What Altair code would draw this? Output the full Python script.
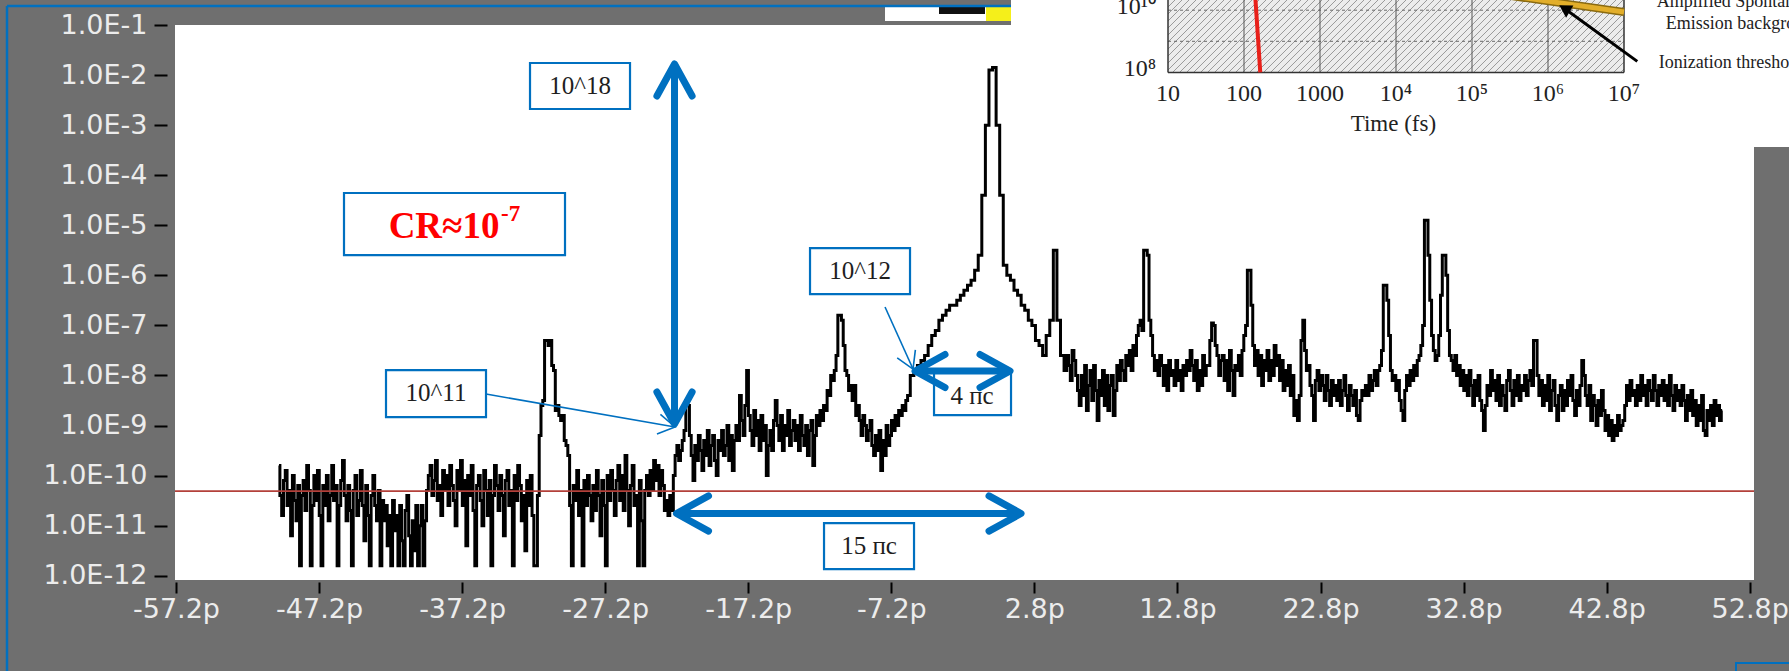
import altair as alt
import pandas as pd

# ---------------- data ----------------
# main trace, read in four stretches: start (ps), step (ps), log10 contrast per sample
LEFT_T_START, LEFT_T_STEP = -50.0, 0.125
LEFT_LOG = [
    -9.8, -10.4, -10.8, -10.1, -9.9, -10.6, -10.3, -11.2, -10.0, -10.5, -10.9, -10.2, -11.8, -10.4, -10.1, -10.7,
    -9.8, -10.3, -11.8, -10.6, -10.0, -10.5, -9.9, -10.8, -11.8, -10.2, -10.6, -10.0, -10.9, -10.4, -9.8, -10.5,
    -10.2, -11.8, -10.6, -10.1, -9.7, -10.4, -10.9, -10.2, -10.7, -11.8, -10.3, -10.0, -10.8, -10.5, -9.9, -10.6,
    -11.3, -10.2, -10.8, -11.8, -10.4, -10.0, -10.6, -10.9, -10.3, -11.8, -10.5, -10.9, -10.6, -11.4, -10.8, -11.8,
    -10.5, -11.1, -10.8, -11.8, -10.6, -11.3, -11.8, -10.7, -10.4, -11.2, -11.8, -10.9, -11.5, -10.6, -11.8, -11.0,
    -10.6, -11.8, -10.9, -10.3, -10.0, -9.8, -10.4, -10.1, -9.7, -10.5, -10.2, -10.8, -9.9, -10.3, -10.0, -10.6,
    -9.8, -10.2, -10.5, -11.0, -9.9, -10.3, -9.7, -10.6, -10.1, -11.4, -10.0, -10.4, -9.8, -10.7, -11.8, -10.2,
    -10.0, -10.5, -11.0, -9.9, -10.3, -10.8, -10.1, -11.8, -10.4, -9.8, -10.2, -10.7, -10.0, -10.4, -11.2, -10.1,
    -9.9, -10.6, -10.3, -11.8, -10.0, -10.5, -9.8, -10.2, -10.9, -10.4, -11.5, -10.1, -10.6, -10.0, -10.8, -11.8,
    -11.8, -10.4, -9.2, -8.6, -8.5, -7.3, -7.3, -7.4, -7.3, -7.8, -7.9, -8.7, -8.6, -8.8, -8.9, -8.8,
    -9.3, -9.4, -9.6, -10.6, -11.8, -10.2, -10.5, -9.9, -10.8, -10.3, -11.8, -10.1, -10.6, -10.0, -10.4, -10.9,
    -10.2, -10.7, -9.9, -10.4, -11.2, -10.1, -10.6, -11.8, -10.0, -10.5, -9.9, -10.3, -10.8, -10.1, -9.8, -10.5,
    -10.0, -10.7, -9.6, -10.3, -11.0, -10.2, -9.8, -10.6, -10.4, -11.8, -10.1, -10.9, -11.8, -10.3, -10.0, -10.4,
    -9.9, -10.3, -9.7, -10.1, -9.8, -10.4, -9.9, -10.2, -10.7, -10.5, -10.8, -10.4, -10.7, -10.0, -9.6, -9.4,
]
MID_T_START, MID_T_STEP = -22.0, 0.125
MID_LOG = [
    -9.7, -9.5, -9.3, -9.1, -8.5, -8.6, -9.2, -9.6,     # -22
    -10.1, -9.4, -9.7, -9.2, -9.5, -9.9, -9.3, -9.6,    # -21
    -9.1, -9.8, -9.4, -9.2, -9.7, -10.0, -9.3, -9.5,    # -20
    -9.1, -9.6, -9.4, -9.0, -9.7, -9.2, -9.9, -9.3,     # -19
    -9.0, -9.3, -8.4, -8.9, -9.2, -8.6, -7.9, -8.8,     # -18
    -9.1, -9.4, -8.7, -9.2, -8.9, -9.5, -8.8, -9.3,     # -17
    -9.0, -10.0, -9.4, -9.1, -9.5, -8.9, -8.5, -9.0,    # -16
    -9.3, -8.8, -9.5, -9.0, -9.2, -8.7, -9.4, -9.1,     # -15
    -8.9, -9.3, -9.0, -9.5, -8.8, -9.2, -9.4, -9.0,     # -14
    -9.6, -9.1, -8.9, -9.8, -9.2, -8.8, -9.0, -8.7,     # -13
    -8.9, -8.6, -8.7, -8.3, -8.4, -8.0, -8.1, -7.9,     # -12
    -7.6, -6.8, -6.8, -6.9, -7.4, -7.9, -8.0, -8.3,     # -11
    -8.2, -8.5, -8.2, -8.8, -8.6, -8.9, -9.2, -8.8,     # -10
    -9.0, -9.3, -9.1, -8.9, -9.4, -9.6, -9.2, -9.5,     # -9
    -9.1, -9.9, -9.3, -9.6, -9.0, -9.4, -9.2, -8.9,     # -8
    -9.1, -8.8, -9.0, -8.7, -8.8, -8.6, -8.7, -8.5,     # -7
]
PULSE_T_START, PULSE_T_STEP = -6.0, 0.25
PULSE_LOG = [
    -8.4, -8.0, -7.9, -7.8, -7.7, -7.6, -7.4, -7.2, -7.1, -6.9, -6.8, -6.7, -6.6, -6.6, -6.5, -6.4,
    -6.3, -6.2, -6.1, -5.9, -5.6, -4.4, -3.0, -1.9, -1.85, -3.0, -4.4, -5.8, -6.0, -6.1, -6.3, -6.4,
    -6.6, -6.7, -6.9, -7.0, -7.3, -7.4, -7.6, -7.2, -6.9, -5.5, -6.9, -7.6,
]
RIGHT_T_START, RIGHT_T_STEP = 5.0, 0.125
RIGHT_LOG = [
    -7.9, -7.6, -7.8, -8.1, -7.5, -7.7, -8.0, -8.3,     # 5
    -8.6, -8.0, -8.4, -7.8, -8.7, -8.2, -7.9, -8.5,     # 6
    -7.8, -8.3, -8.9, -8.1, -8.4, -7.9, -8.6, -8.0,     # 7
    -8.7, -8.2, -8.0, -8.8, -8.3, -7.8, -8.1, -7.7,     # 8
    -7.9, -8.1, -7.6, -7.8, -7.5, -7.9, -7.4, -7.6,     # 9
    -7.2, -7.0, -6.9, -7.1, -5.5, -5.5, -5.6, -6.9,     # 10
    -7.2, -7.6, -7.9, -7.7, -8.0, -7.6, -7.8, -8.2,     # 11
    -7.8, -8.3, -7.7, -8.0, -7.9, -8.2, -7.7, -8.1,     # 12
    -7.9, -8.3, -7.8, -8.0, -7.7, -7.9, -7.5, -7.8,     # 13
    -8.1, -7.7, -8.3, -7.9, -8.2, -7.6, -8.0, -7.8,     # 14
    -7.8, -7.3, -6.95, -7.0, -7.4, -7.6, -8.0, -7.7,    # 15
    -7.6, -8.1, -7.7, -8.3, -7.5, -7.9, -8.4, -7.8,     # 16
    -7.9, -7.6, -8.0, -7.5, -7.2, -7.0, -5.9, -5.9,     # 17
    -6.6, -7.4, -7.8, -7.5, -8.0, -7.6, -8.2, -7.7,     # 18
    -7.9, -7.5, -8.1, -7.7, -8.0, -7.4, -7.8, -7.6,     # 19
    -8.1, -7.7, -8.3, -7.9, -8.2, -7.8, -8.4, -8.0,     # 20
    -8.8, -8.5, -8.9, -8.4, -7.3, -6.9, -7.5, -7.9,     # 21
    -7.8, -8.2, -8.4, -8.9, -8.1, -7.9, -8.3, -8.0,     # 22
    -8.2, -8.5, -8.0, -8.3, -8.6, -8.1, -8.4, -8.2,     # 23
    -8.5, -8.1, -8.6, -8.3, -8.0, -8.4, -8.7, -8.2,     # 24
    -8.4, -8.6, -8.3, -8.8, -8.9, -8.5, -8.3, -8.4,     # 25
    -8.2, -8.4, -8.0, -8.3, -8.1, -7.9, -8.2, -7.9,     # 26
    -7.8, -7.5, -6.2, -6.2, -6.5, -7.2, -7.9, -8.1,     # 27
    -8.0, -8.3, -8.1, -8.5, -8.7, -8.9, -8.3, -8.0,     # 28
    -8.2, -7.9, -8.1, -7.8, -8.0, -7.7, -7.6, -7.4,     # 29
    -7.0, -4.9, -4.9, -5.6, -6.5, -7.2, -7.5, -7.7,     # 30
    -7.6, -7.2, -6.4, -5.6, -5.6, -6.0, -7.1, -7.6,     # 31
    -7.7, -7.9, -7.6, -8.0, -7.8, -8.2, -7.9, -8.3,     # 32
    -8.0, -8.4, -7.9, -8.2, -8.6, -8.1, -8.4, -8.0,     # 33
    -8.5, -8.7, -9.1, -8.6, -8.2, -8.4, -7.9, -8.3,     # 34
    -8.1, -8.5, -8.0, -8.6, -8.2, -8.4, -8.7, -8.1,     # 35
    -7.9, -8.3, -8.6, -8.1, -8.4, -8.0, -8.5, -8.2,     # 36
    -8.3, -8.0, -8.4, -8.1, -7.9, -8.2, -7.3, -7.3,     # 37
    -8.0, -8.4, -8.1, -8.6, -8.2, -8.5, -8.0, -8.7,     # 38
    -8.3, -8.1, -8.6, -8.9, -8.4, -8.2, -8.7, -8.3,     # 39
    -8.6, -8.1, -8.4, -8.0, -8.5, -8.8, -8.3, -8.6,     # 40
    -8.2, -7.7, -8.0, -8.4, -8.6, -8.2, -8.9, -8.4,     # 41
    -8.6, -9.0, -8.5, -8.8, -8.3, -8.7, -9.1, -8.8,     # 42
    -9.2, -8.9, -9.3, -9.0, -9.2, -8.8, -9.1, -9.0,     # 43
    -8.9, -8.6, -8.2, -8.5, -8.1, -8.4, -8.3, -8.6,     # 44
    -8.2, -8.5, -8.0, -8.4, -8.2, -8.6, -8.1, -8.3,     # 45
    -8.5, -8.0, -8.3, -8.6, -8.2, -8.4, -8.1, -8.5,     # 46
    -8.2, -8.6, -8.0, -8.4, -8.7, -8.2, -8.5, -8.3,     # 47
    -8.6, -8.2, -8.5, -8.9, -8.4, -8.7, -8.3, -8.8,     # 48
    -8.5, -9.0, -8.6, -8.9, -8.4, -9.1, -9.2, -8.7,     # 49
    -8.9, -8.6, -9.0, -8.5, -8.8, -8.6, -8.9, -8.7,     # 50
]
THRESHOLD_EXP = -10.31

X_TICKS = [-57.2, -47.2, -37.2, -27.2, -17.2, -7.2, 2.8, 12.8, 22.8, 32.8, 42.8, 52.8]
X_DOMAIN = [-57.27, 53.1]
Y_TICK_EXP = [-1, -2, -3, -4, -5, -6, -7, -8, -9, -10, -11, -12]
Y_DOMAIN_EXP = [-12.086, -1.0]

# annotation boxes (time ps, log10 value)
BOX_LABEL = ["10^18", "", "10^11", "10^12", "4 пс", "15 пс"]
BOX_T1 = [-32.455, -45.457, -42.521, -12.883, -4.215, -11.904]
BOX_T2 = [-25.465, -30.009, -35.531, -5.893, 1.167, -5.613]
BOX_E1 = [-1.759, -4.356, -7.892, -5.455, -7.892, -10.948]
BOX_E2 = [-2.678, -5.595, -8.831, -6.374, -8.791, -11.867]
BOX_TXT_T = [-28.96, 0, -39.026, -9.388, -1.559, -8.759]
BOX_TXT_E = [-2.219, 0, -8.351, -5.914, -8.411, -11.408]

# thick double arrows: shafts
SHAFT_T1 = [-22.355, -22.215, -5.543]
SHAFT_T2 = [-22.355, 1.866, 1.097]
SHAFT_E1 = [-1.779, -10.758, -7.912]
SHAFT_E2 = [-8.970, -10.758, -7.912]
# thick arrow heads
HEAD_T = [-22.355, -22.355, -22.215, 1.866, -5.543, 1.097]
HEAD_E = [-1.779, -8.970, -10.758, -10.758, -7.912, -7.912]
HEAD_ANGLE = [0, 180, 270, 90, 270, 90]
HEAD_SIZE = [4096, 4096, 4096, 4096, 3600, 3600]

# thin callout arrows
CALL_T1 = [-35.531, -7.640]
CALL_E1 = [-8.371, -6.633]
CALL_T2 = [-22.319, -5.683]
CALL_E2 = [-9.030, -7.872]
CALL_ANGLE = [100, 156]

# inset (fragment of another figure): time in fs, value exponents
INSET_XTICKS = [10, 100, 1000, 1e4, 1e5, 1e6, 1e7]
INSET_XLABELS = ["10", "100", "1000", "10⁴", "10⁵", "10⁶", "10⁷"]
INSET_GRID_X = [100, 1000, 1e4, 1e5, 1e6]
INSET_GRID_Y_EXP = [9, 10]
INSET_YLABELS = ["10⁸", "10¹⁰"]
INSET_YLABEL_EXP = [8, 10]
RED_X_EXP = [2.214, 2.151, 2.14]
RED_Y_EXP = [8.0, 10.33, 10.5]
YEL_X_EXP = [5.42, 7.0]
YEL_Y_EXP = [10.49, 9.942]
ARROW_X_EXP = [7.175, 6.217]
ARROW_Y_EXP = [8.354, 10.055]
NOTE_TEXT = ["Amplified Spontaneous", "Emission background", "Ionization threshold"]
NOTE_X_EXP = [7.43, 7.549, 7.457]
NOTE_Y_EXP = [10.103, 9.396, 8.141]

# ---------------- layout ----------------
W, H = 1579, 555
PAD = {"left": 175, "top": 25, "right": 35, "bottom": 91}
BLUE = "#0070c0"
GRAY = "#6f6f6f"

trace_t, trace_e = [], []
for t0, dt, vals in ((LEFT_T_START, LEFT_T_STEP, LEFT_LOG), (MID_T_START, MID_T_STEP, MID_LOG),
                     (PULSE_T_START, PULSE_T_STEP, PULSE_LOG), (RIGHT_T_START, RIGHT_T_STEP, RIGHT_LOG)):
    trace_t += [t0 + i * dt for i in range(len(vals))]
    trace_e += vals
trace_df = pd.DataFrame({"t": trace_t, "v": [10 ** e for e in trace_e]})
one = pd.DataFrame({"a": [0]})

xs = alt.Scale(domain=X_DOMAIN, nice=False, zero=False)
ys = alt.Scale(type="log", domain=[10 ** Y_DOMAIN_EXP[0], 10 ** Y_DOMAIN_EXP[1]], nice=False)

x_axis = alt.Axis(values=X_TICKS, labelExpr="replace(format(datum.value, '.1f'), '\u2212', '-') + 'p'",
                  domain=False, grid=False,
                  tickColor="black", tickSize=11, tickWidth=2, offset=2, labelColor="#ececec",
                  labelFont="DejaVu Sans", labelFontSize=27, labelPadding=3, title=None,
                  labelFlush=False, labelOverlap=False)
y_axis = alt.Axis(values=[10 ** e for e in Y_TICK_EXP],
                  labelExpr="'1.0E' + round(log(datum.value) / LN10)", domain=False, grid=False,
                  tickColor="black", tickSize=13, tickWidth=2, offset=8, labelColor="#ececec",
                  labelFont="DejaVu Sans", labelFontSize=27, labelPadding=7, title=None,
                  labelFlush=False, labelOverlap=False)

# page decorations (pixel placed, relative to the plot origin)
white_top = alt.Chart(one).mark_rect(fill="white").encode(
    x=alt.value(836), x2=alt.value(1614), y=alt.value(-25), y2=alt.value(122))
strip_white = alt.Chart(one).mark_rect(fill="white").encode(
    x=alt.value(710), x2=alt.value(836), y=alt.value(-19), y2=alt.value(-4))
strip_black = alt.Chart(one).mark_rect(fill="#111111").encode(
    x=alt.value(764), x2=alt.value(810), y=alt.value(-19), y2=alt.value(-11))
strip_yellow = alt.Chart(one).mark_rect(fill="#f5ef1a").encode(
    x=alt.value(811), x2=alt.value(836), y=alt.value(-19), y2=alt.value(-4))
frame_left = alt.Chart(one).mark_rule(color=BLUE, strokeWidth=2.5).encode(
    x=alt.value(-168), y=alt.value(-19), y2=alt.value(660))
frame_top = alt.Chart(one).mark_rule(color=BLUE, strokeWidth=2.5).encode(
    x=alt.value(-168), x2=alt.value(836), y=alt.value(-19))
corner_box = alt.Chart(one).mark_rect(fill="transparent", stroke=BLUE, strokeWidth=2).encode(
    x=alt.value(1561), x2=alt.value(1640), y=alt.value(638), y2=alt.value(670))

trace = alt.Chart(trace_df).mark_line(interpolate="step", color="black", strokeWidth=3).encode(
    x=alt.X("t:Q", scale=xs, axis=x_axis),
    y=alt.Y("v:Q", scale=ys, axis=y_axis),
)

thresh = alt.Chart(pd.DataFrame({"v": [10 ** THRESHOLD_EXP]})).mark_rule(
    color="#b3403a", strokeWidth=1.6).encode(y=alt.Y("v:Q"), x=alt.value(0), x2=alt.value(W))

box_df = pd.DataFrame({
    "t1": BOX_T1, "t2": BOX_T2,
    "v1": [10 ** e for e in BOX_E1], "v2": [10 ** e for e in BOX_E2],
    "label": BOX_LABEL,
    "tt": BOX_TXT_T, "tv": [10 ** e for e in BOX_TXT_E],
})
boxes = alt.Chart(box_df).mark_rect(fill="white", stroke=BLUE, strokeWidth=2.2).encode(
    x="t1:Q", x2="t2:Q", y="v1:Q", y2="v2:Q")
box_text = alt.Chart(box_df[box_df["label"] != ""]).mark_text(
    font="Liberation Serif", fontSize=25, color="#1e1e1e", align="center", baseline="middle").encode(
    x="tt:Q", y="tv:Q", text="label:N")

cr_df = pd.DataFrame({"t": [-38.467], "v": [10 ** -5.255], "s": ["CR≈10"]})
cr_text = alt.Chart(cr_df).mark_text(font="Liberation Serif", fontSize=37, fontWeight="bold",
                                     color="#ff0000", align="center", baseline="alphabetic").encode(
    x="t:Q", y="v:Q", text="s:N")
sup_df = pd.DataFrame({"t": [-34.482], "v": [10 ** -4.915], "s": ["-7"]})
cr_sup = alt.Chart(sup_df).mark_text(font="Liberation Serif", fontSize=23, fontWeight="bold",
                                     color="#ff0000", align="left", baseline="alphabetic").encode(
    x="t:Q", y="v:Q", text="s:N")

call_df = pd.DataFrame({
    "t1": CALL_T1, "v1": [10 ** e for e in CALL_E1],
    "t2": CALL_T2, "v2": [10 ** e for e in CALL_E2], "ang": CALL_ANGLE,
})
callouts = alt.Chart(call_df).mark_rule(color=BLUE, strokeWidth=1.6).encode(
    x="t1:Q", y="v1:Q", x2="t2:Q", y2="v2:Q")
thin_heads = alt.Chart(call_df).mark_point(
    shape="M-0.6,1L0,0L0.6,1", filled=False, stroke=BLUE, strokeWidth=1.6, size=1100, opacity=1).encode(
    x="t2:Q", y="v2:Q", angle=alt.Angle("ang:Q", scale=None))

shaft_df = pd.DataFrame({
    "t1": SHAFT_T1, "t2": SHAFT_T2,
    "v1": [10 ** e for e in SHAFT_E1], "v2": [10 ** e for e in SHAFT_E2],
})
shafts = alt.Chart(shaft_df).mark_rule(color=BLUE, strokeWidth=7).encode(
    x="t1:Q", x2="t2:Q", y="v1:Q", y2="v2:Q")
head_df = pd.DataFrame({"t": HEAD_T, "v": [10 ** e for e in HEAD_E], "ang": HEAD_ANGLE, "sz": HEAD_SIZE})
thick_heads = alt.Chart(head_df).mark_point(
    shape="M-0.55,1L0,0L0.55,1", filled=False, stroke=BLUE, strokeWidth=7, strokeCap="round",
    strokeJoin="round", opacity=1).encode(
    x="t:Q", y="v:Q", angle=alt.Angle("ang:Q", scale=None), size=alt.Size("sz:Q", scale=None))

main = alt.layer(white_top, strip_white, strip_black, strip_yellow, frame_left, frame_top, corner_box,
                 trace, thresh, boxes, box_text, cr_text, cr_sup, callouts, thin_heads, shafts, thick_heads)

# ---------------- inset ----------------
IX0, IX1, IDEC_X = 993, 1449, 76.0      # inset x range (px from plot origin), px per decade
IY0, IDEC_Y = 47.4, 31.1                # inset y of 1e8 (px), px per decade
ixs = alt.Scale(type="log", domain=[10, 1e7], range=[IX0, IX1], nice=False)
iys = alt.Scale(type="log", domain=[1e8, 1e10], range=[IY0, IY0 - 2 * IDEC_Y], nice=False)

# diagonal hatching of the inset panel (decoration), expressed in the inset's own units
hx1, hy1, hx2, hy2 = [], [], [], []
c = IX0 - 25
while c < IX1 + IY0:
    xa, xb = max(IX0, c - IY0), min(IX1, c + 25)
    if xb > xa:
        for xp, lst_x, lst_y in ((xa, hx1, hy1), (xb, hx2, hy2)):
            lst_x.append(10 ** (1 + (xp - IX0) / IDEC_X))
            lst_y.append(10 ** (8 + (IY0 - (c - xp)) / IDEC_Y))
    c += 7
hatch_df = pd.DataFrame({"x1": hx1, "y1": hy1, "x2": hx2, "y2": hy2})

panel = alt.Chart(pd.DataFrame({"x1": [10], "x2": [1e7], "y1": [1e8], "y2": [1e11]})).mark_rect(
    fill="#ececec").encode(
    x=alt.X("x1:Q", scale=ixs, axis=None), x2="x2:Q",
    y=alt.Y("y1:Q", scale=iys, axis=None), y2="y2:Q")
hatch = alt.Chart(hatch_df).mark_rule(color="#9a9a9a", strokeWidth=1).encode(
    x=alt.X("x1:Q", scale=ixs, axis=None), y=alt.Y("y1:Q", scale=iys, axis=None), x2="x2:Q", y2="y2:Q")
vgrid = alt.Chart(pd.DataFrame({"x": INSET_GRID_X, "y1": [1e8] * 5, "y2": [1e11] * 5})).mark_rule(
    color="#555555", strokeWidth=1).encode(
    x=alt.X("x:Q", scale=ixs, axis=None), y=alt.Y("y1:Q", scale=iys, axis=None), y2="y2:Q")
hgrid = alt.Chart(pd.DataFrame({"y": [10 ** e for e in INSET_GRID_Y_EXP], "x1": [10, 10], "x2": [1e7, 1e7]})).mark_rule(
    color="#6a6a6a", strokeWidth=1, strokeDash=[3, 3]).encode(
    y=alt.Y("y:Q", scale=iys, axis=None), x=alt.X("x1:Q", scale=ixs, axis=None), x2="x2:Q")
frame_v = alt.Chart(pd.DataFrame({"x": [10, 1e7], "y1": [1e8, 1e8], "y2": [1e11, 1e11]})).mark_rule(
    color="#333333", strokeWidth=1.5).encode(
    x=alt.X("x:Q", scale=ixs, axis=None), y=alt.Y("y1:Q", scale=iys, axis=None), y2="y2:Q")
frame_h = alt.Chart(pd.DataFrame({"y": [1e8], "x1": [10], "x2": [1e7]})).mark_rule(
    color="#333333", strokeWidth=1.5).encode(
    y=alt.Y("y:Q", scale=iys, axis=None), x=alt.X("x1:Q", scale=ixs, axis=None), x2="x2:Q")
ixlab = alt.Chart(pd.DataFrame({"x": INSET_XTICKS, "y": [1e8] * 7, "s": INSET_XLABELS})).mark_text(
    font="Liberation Serif", fontSize=24, color="#222222", baseline="top", dy=10).encode(
    x=alt.X("x:Q", scale=ixs, axis=None), y=alt.Y("y:Q", scale=iys, axis=None), text="s:N")
iylab = alt.Chart(pd.DataFrame({"y": [10 ** e for e in INSET_YLABEL_EXP], "x": [10, 10], "s": INSET_YLABELS})).mark_text(
    font="Liberation Serif", fontSize=24, color="#222222", align="right", baseline="middle", dx=-12, dy=-3).encode(
    y=alt.Y("y:Q", scale=iys, axis=None), x=alt.X("x:Q", scale=ixs, axis=None), text="s:N")
ititle = alt.Chart(pd.DataFrame({"x": [9250], "y": [1e8], "s": ["Time (fs)"]})).mark_text(
    font="Liberation Serif", fontSize=23, color="#222222", baseline="alphabetic", dy=59).encode(
    x=alt.X("x:Q", scale=ixs, axis=None), y=alt.Y("y:Q", scale=iys, axis=None), text="s:N")
red_df = pd.DataFrame({"x": [10 ** e for e in RED_X_EXP], "y": [10 ** e for e in RED_Y_EXP], "o": [0, 1, 2]})
iredline = alt.Chart(red_df).mark_line(color="#e8201a", strokeWidth=4).encode(
    x=alt.X("x:Q", scale=ixs, axis=None), y=alt.Y("y:Q", scale=iys, axis=None), order="o:Q")
yel_df = pd.DataFrame({"x": [10 ** e for e in YEL_X_EXP], "y": [10 ** e for e in YEL_Y_EXP], "o": [0, 1]})
iyel_edge = alt.Chart(yel_df).mark_line(color="#8a6a10", strokeWidth=8).encode(
    x=alt.X("x:Q", scale=ixs, axis=None), y=alt.Y("y:Q", scale=iys, axis=None), order="o:Q")
iyel = alt.Chart(yel_df).mark_line(color="#e2ae2a", strokeWidth=5).encode(
    x=alt.X("x:Q", scale=ixs, axis=None), y=alt.Y("y:Q", scale=iys, axis=None), order="o:Q")
arr_df = pd.DataFrame({"x1": [10 ** ARROW_X_EXP[0]], "y1": [10 ** ARROW_Y_EXP[0]],
                       "x2": [10 ** ARROW_X_EXP[1]], "y2": [10 ** ARROW_Y_EXP[1]], "ang": [301]})
iarrow = alt.Chart(arr_df).mark_rule(color="black", strokeWidth=3).encode(
    x=alt.X("x1:Q", scale=ixs, axis=None), y=alt.Y("y1:Q", scale=iys, axis=None), x2="x2:Q", y2="y2:Q")
iarrowhead = alt.Chart(arr_df).mark_point(shape="triangle-up", filled=True, color="black", size=200,
                                          opacity=1).encode(
    x=alt.X("x2:Q", scale=ixs, axis=None), y=alt.Y("y2:Q", scale=iys, axis=None),
    angle=alt.Angle("ang:Q", scale=None))
note_df = pd.DataFrame({"x": [10 ** e for e in NOTE_X_EXP], "y": [10 ** e for e in NOTE_Y_EXP], "s": NOTE_TEXT})
inotes = alt.Chart(note_df).mark_text(font="Liberation Serif", fontSize=18, color="#222222",
                                      align="left", baseline="alphabetic").encode(
    x=alt.X("x:Q", scale=ixs, axis=None), y=alt.Y("y:Q", scale=iys, axis=None), text="s:N")

inset = alt.layer(panel, hatch, hgrid, vgrid, frame_v, frame_h, ixlab, iylab, ititle, iredline,
                  iyel_edge, iyel, iarrow, iarrowhead, inotes)

chart = alt.layer(main, inset).resolve_scale(x="independent", y="independent").properties(
    width=W, height=H, autosize=alt.AutoSizeParams(type="none"), padding=PAD,
).configure(background=GRAY).configure_view(fill="white", stroke="transparent", strokeWidth=0)

chart.save("out.html", embed_options={"renderer": "svg", "actions": False})
